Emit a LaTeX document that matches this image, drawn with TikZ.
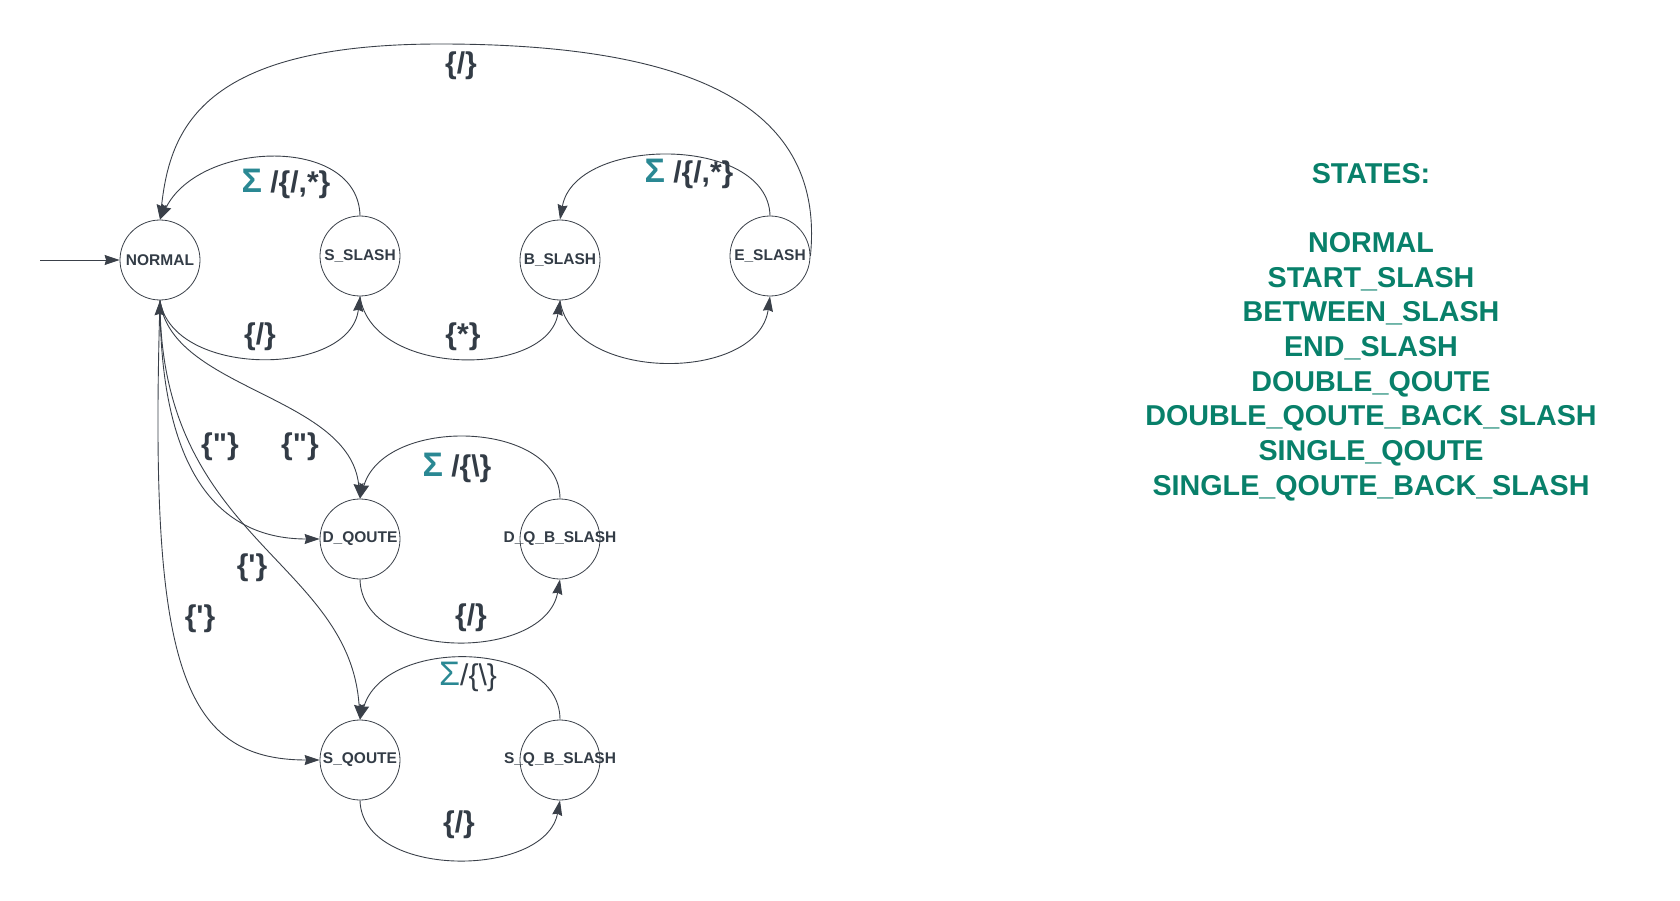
\documentclass[tikz,border=0pt]{standalone}
\usepackage{fontspec}
\setmainfont{Liberation Sans}
\usetikzlibrary{arrows.meta}

\definecolor{edgegray}{HTML}{3A4049}
\definecolor{labelgray}{HTML}{333C46}
\definecolor{sigmateal}{HTML}{2A8893}
\definecolor{stategreen}{HTML}{08806A}

\newcommand{\statename}[1]{\makebox[0pt]{#1}}
\newcommand{\sigmasym}{\textcolor{sigmateal}{\fontsize{34}{34}\selectfont Σ}}

\tikzset{
  state node/.style={circle, draw=edgegray, line width=0.8pt, minimum size=80pt, inner sep=0pt,
    font=\fontsize{15.5}{18}\selectfont\bfseries, text=labelgray},
  edge label/.style={font=\fontsize{30}{34}\selectfont\bfseries, text=labelgray, inner sep=0pt},
}

\begin{document}
\begin{tikzpicture}[x=1pt,y=-1pt,>={Stealth[length=15pt,width=10pt,inset=1.5pt]},
  every path/.style={draw=edgegray, line width=0.9pt}]

  \useasboundingbox[draw=none] (0,0) rectangle (1680,901);

  % states
  \node[state node] (normal) at (160,260) {\statename{NORMAL}};
  \node[state node] (sslash) at (360,256) {\statename{S\_SLASH}};
  \node[state node] (bslash) at (560,260) {\statename{B\_SLASH}};
  \node[state node] (eslash) at (770,256) {\statename{E\_SLASH}};
  \node[state node] (dqoute) at (360,539) {\statename{D\_QOUTE}};
  \node[state node] (dqbslash) at (560,539) {\statename{D\_Q\_B\_SLASH}};
  \node[state node] (sqoute) at (360,760) {\statename{S\_QOUTE}};
  \node[state node] (sqbslash) at (560,760) {\statename{S\_Q\_B\_SLASH}};

  \coordinate (start) at (40,260);
  \coordinate (arctop) at (440,44);

  % comment states
  \draw[->] (start) -- (normal);
  \draw[->] (normal.south) .. controls (172,378) and (350,378) .. (sslash.south);
  \draw[->] (sslash.south) .. controls (372,378) and (548,378) .. (bslash.south);
  \draw[->] (bslash.south) .. controls (572,383) and (758,383) .. (eslash.south);
  \draw[->] (eslash.north) .. controls (768,135) and (575,135) .. (bslash.north);
  \draw[->] (sslash.north) .. controls (358,135) and (200,140) .. (normal.north);
  \draw[->] (eslash.east) .. controls (825,110) and (700,44) .. (arctop)
                          .. controls (200,44) and (170,130) .. (normal.north);

  % quote states
  \draw[->] (normal.south) .. controls (170,390) and (350,395) .. (dqoute.north);
  \draw[->] (normal.south) .. controls (160,450) and (205,539) .. (dqoute.west);
  \draw[->] (normal.south) .. controls (160,540) and (350,560) .. (sqoute.north);
  \draw[<->] (normal.south) .. controls (150,660) and (180,760) .. (sqoute.west);
  \draw[->] (dqbslash.north) .. controls (560,420) and (385,415) .. (dqoute.north);
  \draw[->] (dqoute.south) .. controls (362,662) and (545,662) .. (dqbslash.south);
  \draw[->] (sqbslash.north) .. controls (560,640) and (385,636) .. (sqoute.north);
  \draw[->] (sqoute.south) .. controls (362,879) and (545,879) .. (sqbslash.south);

  % labels
  \node[edge label] (ltop) at (461,66) {\{/\}};
  \node[edge label] (lsn) at (286,184) {\sigmasym\ /\{/,*\}};
  \node[edge label] (lbe) at (689,174) {\sigmasym\ /\{/,*\}};
  \node[edge label] (lns) at (260,337) {\{/\}};
  \node[edge label] (lsb) at (463,337) {\{*\}};
  \node[edge label] (ldqa) at (220,447) {\{\textquotedbl\}};
  \node[edge label] (ldqb) at (300,447) {\{\textquotedbl\}};
  \node[edge label] (ldqloop) at (457,468) {\sigmasym\ /\{\textbackslash\}};
  \node[edge label] (ldqlow) at (471,618) {\{/\}};
  \node[edge label] (lsqa) at (252,568) {\{\textquotesingle\}};
  \node[edge label] (lsqb) at (200,619) {\{\textquotesingle\}};
  \node[edge label, font=\fontsize{30}{34}\selectfont] (lsqloop) at (468,677) {\sigmasym/\{\textbackslash\}};
  \node[edge label] (lsqlow) at (459,825) {\{/\}};

  % state list
  \node[align=center, text=stategreen, font=\fontsize{28.7}{34.7}\selectfont\bfseries] (statelist) at (1371,332)
    {STATES:\\[34.7pt]
     NORMAL\\
     START\_SLASH\\
     BETWEEN\_SLASH\\
     END\_SLASH\\
     DOUBLE\_QOUTE\\
     DOUBLE\_QOUTE\_BACK\_SLASH\\
     SINGLE\_QOUTE\\
     SINGLE\_QOUTE\_BACK\_SLASH};
\end{tikzpicture}
\end{document}
